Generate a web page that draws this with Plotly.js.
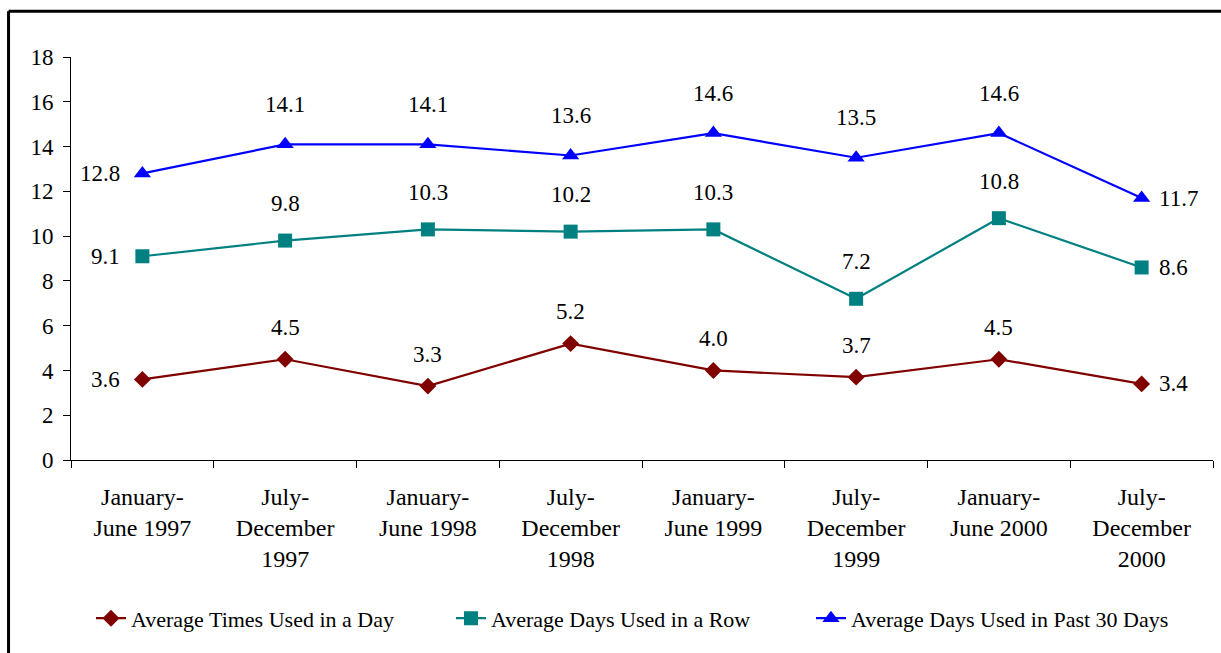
<!DOCTYPE html>
<html>
<head>
<meta charset="utf-8">
<script src="https://cdn.plot.ly/plotly-3.0.1.min.js"></script>
<style>html,body{margin:0;padding:0;background:#fff;}#chart{width:1221px;height:653px;}</style>
</head>
<body>
<div id="chart"></div>
<script>
const categories = ["January-<br>June 1997","July-<br>December<br>1997","January-<br>June 1998","July-<br>December<br>1998","January-<br>June 1999","July-<br>December<br>1999","January-<br>June 2000","July-<br>December<br>2000"];
const timesPerDay = [3.6, 4.5, 3.3, 5.2, 4.0, 3.7, 4.5, 3.4];
const daysInRow = [9.1, 9.8, 10.3, 10.2, 10.3, 7.2, 10.8, 8.6];
const daysPast30 = [12.8, 14.1, 14.1, 13.6, 14.6, 13.5, 14.6, 11.7];
const seriesNames = ["Average Times Used in a Day","Average Days Used in a Row","Average Days Used in Past 30 Days"];

const FONT = "Liberation Serif, Times New Roman, serif";
const series = [
  {y: timesPerDay, name: seriesNames[0], color: "#800000", symbol: "diamond", size: 13, shift: 32},
  {y: daysInRow, name: seriesNames[1], color: "#008080", symbol: "square", size: 14, shift: 37},
  {y: daysPast30, name: seriesNames[2], color: "#0000FF", symbol: "triangle-up", size: 15, shift: 40}
];

const traces = series.map(s => ({
  type: "scatter", mode: "lines+markers",
  x: categories, y: s.y, name: s.name,
  line: {color: s.color, width: 2.2},
  marker: {color: s.color, symbol: s.symbol, size: s.size, line: {width: 0}},
  cliponaxis: false
}));

const annotations = [];
series.forEach(s => {
  s.y.forEach((v, i) => {
    const a = {x: categories[i], y: v, xref: "x", yref: "y", text: v.toFixed(1), showarrow: false,
      font: {family: FONT, size: 23, color: "#000"}};
    if (i === 0) { a.xanchor = "right"; a.xshift = -20; a.yanchor = "middle"; }
    else if (i === s.y.length - 1) { a.xanchor = "left"; a.xshift = 15; a.yanchor = "middle"; }
    else { a.xanchor = "center"; a.yanchor = "middle"; a.yshift = s.shift; }
    annotations.push(a);
  });
});

const layout = {
  width: 1221, height: 653,
  margin: {l: 71, r: 8, t: 57, b: 193, pad: 0},
  paper_bgcolor: "#fff", plot_bgcolor: "#fff",
  font: {family: FONT, size: 22, color: "#000"},
  showlegend: true,
  legend: {orientation: "h", x: 0.0175, xanchor: "left", y: -0.393, yanchor: "middle",
    font: {family: FONT, size: 22, color: "#000"}, entrywidth: 315, traceorder: "normal"},
  xaxis: {type: "category", range: [-0.5, 7.5], tickson: "boundaries", ticks: "outside", ticklen: 7,
    tickcolor: "#000", showline: true, linecolor: "#000", linewidth: 1, showgrid: false, zeroline: false,
    tickfont: {family: FONT, size: 24, color: "#000"}, ticklabelstandoff: 15, fixedrange: true},
  yaxis: {range: [0, 18], dtick: 2, ticks: "outside", ticklen: 7, tickcolor: "#000", showline: true,
    linecolor: "#000", linewidth: 1, showgrid: false, zeroline: false,
    tickfont: {family: FONT, size: 23, color: "#000"}, ticklabelstandoff: 5, fixedrange: true},
  annotations: annotations,
  shapes: [
    {type: "line", xref: "paper", yref: "paper", x0: -0.0547, x1: -0.0547, y0: 1.1135, y1: -0.7, line: {color: "#000", width: 3}},
    {type: "line", xref: "paper", yref: "paper", x0: -0.0547, x1: 1.1, y0: 1.1135, y1: 1.1135, line: {color: "#000", width: 3}}
  ]
};

Plotly.newPlot("chart", traces, layout, {displayModeBar: false, staticPlot: true});
</script>
</body>
</html>
